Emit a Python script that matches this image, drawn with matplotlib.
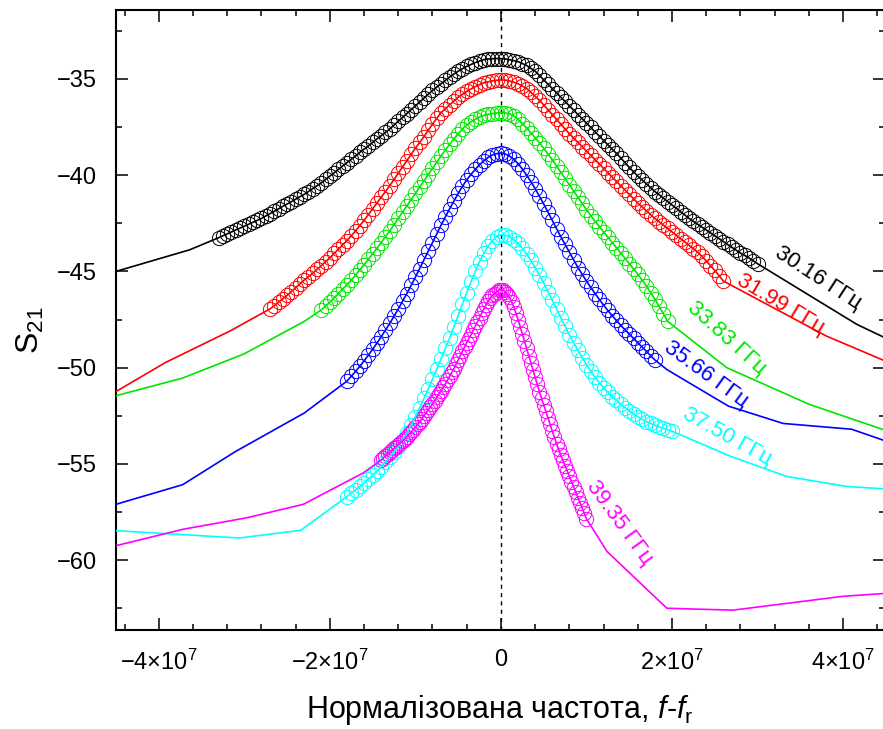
import numpy as np
import matplotlib
matplotlib.use("Agg")
import matplotlib.pyplot as plt
from matplotlib.ticker import FuncFormatter, MultipleLocator

plt.rcParams['font.family'] = ['Liberation Sans', 'DejaVu Sans']
plt.rcParams['mathtext.fontset'] = 'custom'
plt.rcParams['mathtext.rm'] = 'Liberation Sans'
plt.rcParams['mathtext.it'] = 'Liberation Sans:italic'
plt.rcParams['mathtext.bf'] = 'Liberation Sans:bold'

X_UNIT = 1e7  # all x values below are in units of 1e7 (normalized frequency f - f_r)

labels = ['30.16 ГГц', '31.99 ГГц', '33.83 ГГц', '35.66 ГГц', '37.50 ГГц', '39.35 ГГц']
colors = ['#000000', '#FF0000', '#00E600', '#0000FF', '#00FFFF', '#FF00FF']

# ---- dense fitted data (open circles), sampled uniformly over [start, stop] ----
black_circ_range = (-3.3, 3.0)
black_circ_y = [-43.25, -43.15, -43.05, -42.95, -42.85, -42.75, -42.65, -42.55, -42.45, -42.35,
                -42.25, -42.12, -42.0, -41.88, -41.75, -41.62, -41.5, -41.38, -41.25, -41.12,
                -41.0, -40.85, -40.7, -40.55, -40.4, -40.22, -40.05, -39.88, -39.7, -39.52,
                -39.35, -39.18, -39.0, -38.82, -38.65, -38.48, -38.3, -38.12, -37.95, -37.78,
                -37.6, -37.4, -37.2, -37.0, -36.8, -36.6, -36.4, -36.2, -36.0, -35.8,
                -35.6, -35.42, -35.25, -35.08, -34.9, -34.75, -34.6, -34.47, -34.35, -34.25,
                -34.15, -34.07, -34.0, -33.97, -33.95, -33.94, -33.95,
                -33.96, -34.0, -34.05, -34.1, -34.2, -34.3, -34.45, -34.6, -34.82, -35.05,
                -35.27, -35.5, -35.72, -35.95, -36.17, -36.4, -36.62, -36.85, -37.07, -37.3,
                -37.52, -37.75, -37.97, -38.2, -38.42, -38.65, -38.87, -39.1, -39.35, -39.6,
                -39.82, -40.05, -40.25, -40.45, -40.65, -40.85, -41.02, -41.2, -41.37, -41.55,
                -41.72, -41.9, -42.07, -42.25, -42.4, -42.55, -42.7, -42.85, -43.0, -43.15,
                -43.3, -43.45, -43.6, -43.75, -43.9, -44.05, -44.17, -44.3, -44.45, -44.6]

red_circ_range = (-2.7, 2.6)
red_circ_y = [-46.95, -46.78, -46.6, -46.42, -46.25, -46.05, -45.85, -45.65, -45.45, -45.27,
              -45.1, -44.9, -44.7, -44.5, -44.3, -44.07, -43.85, -43.62, -43.4, -43.15,
              -42.9, -42.62, -42.35, -42.05, -41.75, -41.45, -41.15, -40.85, -40.55, -40.22,
              -39.9, -39.57, -39.25, -38.92, -38.6, -38.3, -38.0, -37.67, -37.35, -37.05,
              -36.75, -36.55, -36.35, -36.15, -35.95, -35.8, -35.65, -35.52, -35.4, -35.3,
              -35.2, -35.15, -35.1, -35.07, -35.05,
              -35.06, -35.1, -35.17, -35.25, -35.37, -35.5, -35.7, -35.9, -36.12, -36.35,
              -36.6, -36.85, -37.1, -37.35, -37.6, -37.85, -38.07, -38.3, -38.52, -38.75,
              -38.97, -39.2, -39.42, -39.65, -39.87, -40.1, -40.32, -40.55, -40.77, -41.0,
              -41.22, -41.45, -41.65, -41.85, -42.05, -42.25, -42.42, -42.6, -42.77, -42.95,
              -43.12, -43.3, -43.47, -43.65, -43.82, -44.0, -44.22, -44.45, -44.7, -44.95,
              -45.22, -45.5]

green_circ_range = (-2.1, 1.95)
green_circ_y = [-47.0, -46.8, -46.6, -46.38, -46.15, -45.92, -45.7, -45.45, -45.2, -44.92,
                -44.65, -44.38, -44.1, -43.8, -43.5, -43.2, -42.9, -42.57, -42.25, -41.92,
                -41.6, -41.27, -40.95, -40.62, -40.3, -39.97, -39.65, -39.32, -39.0, -38.7,
                -38.4, -38.12, -37.85, -37.6, -37.4, -37.23, -37.1, -36.98, -36.9, -36.84,
                -36.8, -36.77, -36.75,
                -36.77, -36.8, -36.93, -37.1, -37.32, -37.55, -37.8, -38.05, -38.32, -38.6,
                -38.9, -39.2, -39.52, -39.85, -40.17, -40.5, -40.82, -41.15, -41.47, -41.8,
                -42.1, -42.4, -42.67, -42.95, -43.22, -43.5, -43.77, -44.05, -44.32, -44.6,
                -44.87, -45.15, -45.45, -45.75, -46.1, -46.45, -46.82, -47.2, -47.6]

blue_circ_range = (-1.8, 1.8)
blue_circ_y = [-50.7, -50.45, -50.2, -49.93, -49.65, -49.35, -49.05, -48.73, -48.4, -48.05,
               -47.7, -47.33, -46.95, -46.55, -46.15, -45.73, -45.3, -44.85, -44.4, -43.95,
               -43.5, -43.05, -42.6, -42.17, -41.75, -41.35, -40.95, -40.58, -40.25, -39.96,
               -39.7, -39.46, -39.25, -39.08, -38.95, -38.88, -38.85,
               -38.9, -39.0, -39.18, -39.4, -39.68, -40.0, -40.33, -40.7, -41.1, -41.5,
               -41.92, -42.35, -42.78, -43.2, -43.6, -44.0, -44.4, -44.8, -45.15, -45.5,
               -45.83, -46.15, -46.45, -46.75, -47.03, -47.3, -47.55, -47.8, -48.03, -48.25,
               -48.48, -48.7, -48.93, -49.15, -49.38, -49.6]

cyan_circ_range = (-1.8, 2.0)
cyan_circ_y = [-56.7, -56.52, -56.35, -56.17, -56.0, -55.8, -55.6, -55.38, -55.15, -54.9,
               -54.65, -54.38, -54.1, -53.77, -53.4, -53.0, -52.55, -52.08, -51.6, -51.1,
               -50.6, -50.08, -49.55, -49.0, -48.45, -47.88, -47.3, -46.7, -46.1, -45.55,
               -45.0, -44.5, -44.05, -43.7, -43.4, -43.2, -43.1,
               -43.12, -43.2, -43.35, -43.55, -43.8, -44.1, -44.43, -44.8, -45.2, -45.6,
               -46.05, -46.5, -46.95, -47.4, -47.85, -48.3, -48.7, -49.1, -49.48, -49.85,
               -50.18, -50.5, -50.78, -51.05, -51.28, -51.5, -51.7, -51.9, -52.08, -52.25,
               -52.4, -52.55, -52.68, -52.8, -52.9, -53.0, -53.08, -53.15, -53.22, -53.3]

magenta_circ_range = (-1.4, 1.0)
magenta_circ_y = [-54.8, -54.7, -54.6, -54.5, -54.4, -54.3, -54.2, -54.1, -54.0, -53.9,
                  -53.8, -53.7, -53.6, -53.47, -53.35, -53.22, -53.1, -52.95, -52.8, -52.65,
                  -52.5, -52.35, -52.2, -52.05, -51.9, -51.72, -51.55, -51.37, -51.2, -51.02,
                  -50.85, -50.65, -50.45, -50.25, -50.05, -49.82, -49.6, -49.37, -49.15, -48.92,
                  -48.7, -48.5, -48.3, -48.07, -47.85, -47.62, -47.4, -47.17, -46.95, -46.75,
                  -46.55, -46.4, -46.25, -46.15, -46.05, -45.98, -45.95,
                  -45.98, -46.05, -46.18, -46.35, -46.58, -46.85, -47.15, -47.5, -47.87, -48.25,
                  -48.62, -49.0, -49.37, -49.75, -50.12, -50.5, -50.87, -51.25, -51.6, -51.95,
                  -52.27, -52.6, -52.95, -53.3, -53.62, -53.95, -54.25, -54.55, -54.82, -55.1,
                  -55.37, -55.65, -55.92, -56.2, -56.47, -56.75, -57.02, -57.3, -57.57, -57.85]

# ---- sparse measured data outside the fitted range (solid lines) ----
black_left_x, black_left_y = [-4.5, -3.64], [-45.0, -43.88]
black_right_x, black_right_y = [4.16, 4.49], [-47.75, -48.45]
red_left_x, red_left_y = [-4.5, -3.92, -3.16], [-51.24, -49.73, -48.08]
red_right_x, red_right_y = [3.8, 4.49], [-48.35, -49.65]
green_left_x, green_left_y = [-4.5, -3.72, -3.0, -2.3], [-51.46, -50.54, -49.28, -47.6]
green_right_x, green_right_y = [2.64, 3.6, 4.49], [-50.0, -51.9, -53.25]
blue_left_x, blue_left_y = [-4.5, -3.72, -3.1, -2.3], [-57.1, -56.08, -54.35, -52.36]
blue_right_x, blue_right_y = [1.94, 2.66, 3.3, 4.1, 4.49], [-50.1, -52.0, -52.9, -53.2, -53.8]
cyan_left_x, cyan_left_y = [-4.5, -3.06, -2.34], [-58.47, -58.85, -58.45]
cyan_right_x, cyan_right_y = [2.68, 3.34, 4.04, 4.49], [-54.6, -55.65, -56.17, -56.3]
magenta_left_x, magenta_left_y = [-4.5, -3.72, -2.97, -2.31, -1.61], [-59.25, -58.4, -57.8, -57.1, -55.47]
magenta_right_x, magenta_right_y = [1.24, 1.94, 2.71, 4.0, 4.49], [-59.55, -62.5, -62.6, -61.88, -61.73]

# ---- curve annotations: (x, y, rotation) ----
label_pos = [(3.71, -45.33, -33), (3.27, -46.73, -31), (2.64, -48.45, -42),
             (2.40, -50.37, -36), (2.65, -53.59, -29), (1.39, -58.05, -54)]

series = [
    (black_circ_range, black_circ_y, black_left_x, black_left_y, black_right_x, black_right_y),
    (red_circ_range, red_circ_y, red_left_x, red_left_y, red_right_x, red_right_y),
    (green_circ_range, green_circ_y, green_left_x, green_left_y, green_right_x, green_right_y),
    (blue_circ_range, blue_circ_y, blue_left_x, blue_left_y, blue_right_x, blue_right_y),
    (cyan_circ_range, cyan_circ_y, cyan_left_x, cyan_left_y, cyan_right_x, cyan_right_y),
    (magenta_circ_range, magenta_circ_y, magenta_left_x, magenta_left_y, magenta_right_x, magenta_right_y),
]

W, H = 883, 729
fig = plt.figure(figsize=(W / 100, H / 100), dpi=100)
ax = fig.add_axes([116 / W, 1 - 630 / H, (885 - 116) / W, 620 / H])

ax.axvline(0, color='black', lw=1.0, ls=(0, (3, 3)), zorder=1)

for (rng, cy, lx, ly, rx, ry), col in zip(series, colors):
    cx = np.linspace(rng[0], rng[1], len(cy))
    full_x = np.concatenate([lx, cx, rx]) * X_UNIT
    full_y = np.concatenate([ly, cy, ry])
    ax.plot(cx * X_UNIT, cy, ls='none', marker='o', ms=10.3, mfc='none', mec=col, mew=0.7, zorder=2)
    ax.plot(full_x, full_y, color=col, lw=1.2, zorder=3)

for (tx, ty, rot), lab, col in zip(label_pos, labels, colors):
    ax.text(tx * X_UNIT, ty, lab, color=col, fontsize=16, rotation=rot,
            ha='center', va='center', rotation_mode='anchor')

ax.set_xlim(-4.5e7, 4.49e7)
ax.set_ylim(-63.63, -31.42)
ax.xaxis.set_major_locator(MultipleLocator(2e7))
ax.xaxis.set_minor_locator(MultipleLocator(4e6))
ax.yaxis.set_major_locator(MultipleLocator(5))
ax.yaxis.set_minor_locator(MultipleLocator(2.5))


def xfmt(v, pos):
    m = int(round(v / 1e7))
    if m == 0:
        return '0'
    sign = '\u2212' if m < 0 else ''
    return sign + '%d\u00d710$^{7}$' % abs(m)


def yfmt(v, pos):
    return '\u2212%d' % abs(int(round(v))) if v < 0 else '%d' % int(round(v))


ax.xaxis.set_major_formatter(FuncFormatter(xfmt))
ax.yaxis.set_major_formatter(FuncFormatter(yfmt))
ax.tick_params(which='both', direction='in', top=True, right=True, width=1.1)
ax.tick_params(which='major', length=8.5, labelsize=17, pad=14)
ax.tick_params(which='minor', length=4.5)
for s in ax.spines.values():
    s.set_linewidth(1.5)

fig.text(30 / W, 1 - 330 / H, 'S$_{21}$', rotation=90, ha='center', va='center', fontsize=23)
fig.text(500 / W, 1 - 710 / H, 'Нормалізована частота, $f$-$f_{\\mathrm{r}}$',
         ha='center', va='center', fontsize=22)

fig.savefig('out.png', dpi=100)
